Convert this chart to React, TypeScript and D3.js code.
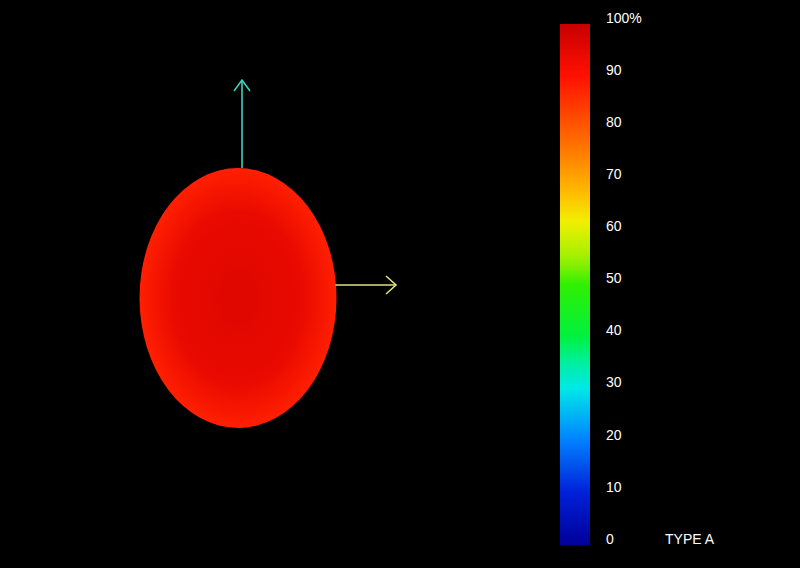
import React from "react";
import * as d3 from "d3";

const ticks = [0, 10, 20, 30, 40, 50, 60, 70, 80, 90, 100];
const tickLabels = ["0", "10", "20", "30", "40", "50", "60", "70", "80", "90", "100%"];
const stopValues = [0, 10, 20, 30, 35, 40, 50, 55, 62, 67, 75, 80, 90, 100];
const stopColors = ["#00009a", "#0020d8", "#0080ff", "#00e8e8", "#00f0a0", "#00f040", "#30f000", "#a0f000", "#f0f000", "#ffc000", "#ff8000", "#ff5a00", "#ff1000", "#c80000"];
const legendTitle = "TYPE A";
const objectCenterValue = 96;
const objectMidValue = 94;
const objectEdgeValue = 88;

const W = 800;
const H = 568;

export default function App() {
  const color = d3.scaleLinear<string>().domain(stopValues).range(stopColors).interpolate(d3.interpolateRgb);
  const barY = d3.scaleLinear().domain([0, 100]).range([545, 24]);
  const gradStops = d3.range(0, 101, 2);

  const cx = 238, cy = 298, rx = 98.5, ry = 130;
  const arrowX = cx + 4;
  const arrowY = 285;

  return (
    <div style={{ position: "fixed", left: 0, top: 0, width: W, height: H, background: "#000" }}>
      <svg width={W} height={H} style={{ display: "block" }}>
        <defs>
          <linearGradient id="cbar" x1="0" y1="1" x2="0" y2="0">
            {gradStops.map((v) => (
              <stop key={v} offset={`${v}%`} stopColor={color(v)} />
            ))}
          </linearGradient>
          <radialGradient id="blob" cx="0.5" cy="0.5" r="0.5">
            <stop offset="0%" stopColor={color(objectCenterValue)} />
            <stop offset="65%" stopColor={color(objectMidValue)} />
            <stop offset="100%" stopColor={color(objectEdgeValue)} />
          </radialGradient>
        </defs>
        <rect x={0} y={0} width={W} height={H} fill="#000" />
        <ellipse cx={cx} cy={cy} rx={rx} ry={ry} fill="url(#blob)" />
        <g stroke="#3cd2c0" strokeWidth={1.6} fill="none">
          <line x1={arrowX} y1={cy - ry} x2={arrowX} y2={80} />
          <polyline points={`${arrowX - 8},${91} ${arrowX},${80} ${arrowX + 8},${91}`} />
        </g>
        <g stroke="#e0e07a" strokeWidth={1.6} fill="none">
          <line x1={cx + rx - 1} y1={arrowY} x2={396} y2={arrowY} />
          <polyline points={`${386},${276} ${396},${arrowY} ${386},${294}`} />
        </g>
        <rect x={560} y={barY(100)} width={30} height={barY(0) - barY(100)} fill="url(#cbar)" />
        {ticks.map((t, i) => (
          <text
            key={t}
            x={606}
            y={barY(t) - 5}
            dominantBaseline="middle"
            fill="#fff"
            fontFamily="'Liberation Sans', Arial, sans-serif"
            fontSize={14}
          >
            {tickLabels[i]}
          </text>
        ))}
        <text x={665} y={barY(0) - 5} dominantBaseline="middle" fill="#fff" fontFamily="'Liberation Sans', Arial, sans-serif" fontSize={14}>
          {legendTitle}
        </text>
      </svg>
    </div>
  );
}
